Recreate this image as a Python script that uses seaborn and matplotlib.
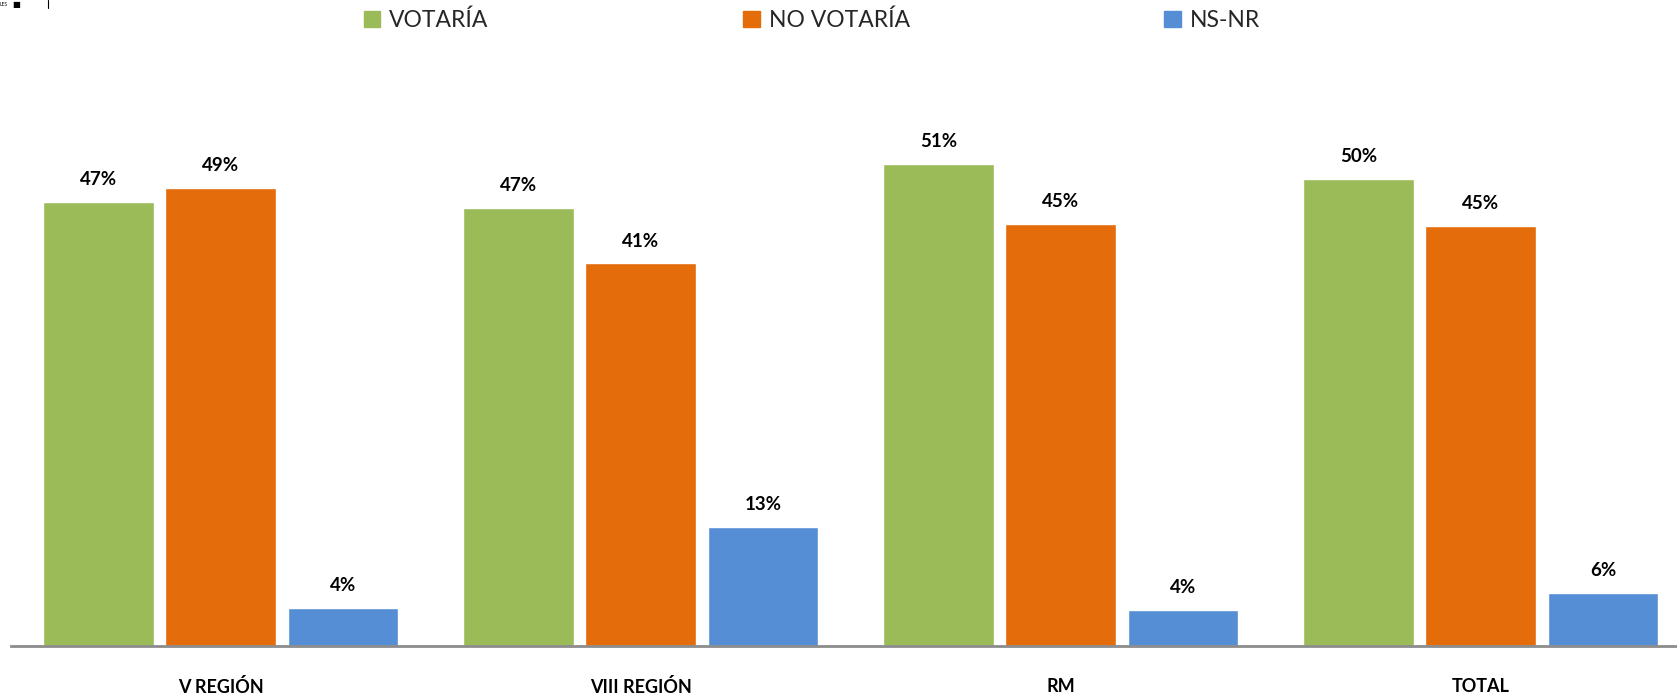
import matplotlib
matplotlib.use("Agg")
import matplotlib.pyplot as plt
import seaborn as sns
import pandas as pd
from matplotlib.lines import Line2D

categories = ["V REGIÓN", "VIII REGIÓN", "RM", "TOTAL"]
series_names = ["VOTARÍA", "NO VOTARÍA", "NS-NR"]
votaria = [47.4, 46.7, 51.4, 49.8]
no_votaria = [48.9, 40.8, 45.0, 44.8]
ns_nr = [4.0, 12.7, 3.8, 5.6]
colors = ["#9BBB59", "#E46C0A", "#558ED5"]

rows = []
for name, vals in zip(series_names, [votaria, no_votaria, ns_nr]):
    for c, v in zip(categories, vals):
        rows.append({"region": c, "serie": name, "valor": v})
df = pd.DataFrame(rows)

sns.set_style("white")
plt.rcParams["font.family"] = ["Lato", "DejaVu Sans"]

W, H = 1677, 693
fig = plt.figure(figsize=(W / 100, H / 100), dpi=100)
left = 10.7 / W
width = 1680 / W
bottom = (H - 645.7) / H
height = 545.7 / H
ax = fig.add_axes([left, bottom, width, height])

sns.barplot(data=df, x="region", y="valor", hue="serie", order=categories,
            hue_order=series_names, palette=colors, width=0.873, gap=0.096,
            saturation=1, ax=ax, legend=False)

ax.set_xlim(-0.5, 3.5)
ax.set_ylim(0, 545.7 / 9.37)
ax.set_xlabel("")
ax.set_ylabel("")
ax.set_yticks([])
for s in ["top", "right", "left"]:
    ax.spines[s].set_visible(False)
ax.spines["bottom"].set_color("#8C8C8C")
ax.spines["bottom"].set_linewidth(2)
ax.tick_params(axis="x", length=0, pad=23)
for t in ax.get_xticklabels():
    t.set_fontweight("bold")
    t.set_fontsize(13)
    t.set_color("#000000")

for cont in ax.containers:
    ax.bar_label(cont, fmt="%.0f%%", padding=10, fontsize=13.5,
                 fontweight="bold", color="#000000")

handles = [plt.Rectangle((0, 0), 1, 1, color=c) for c in colors]
fig.legend(handles, series_names, loc="center",
           bbox_to_anchor=(812 / W, 1 - 20 / H), ncol=3, frameon=False,
           fontsize=16.5, handlelength=0.72, handleheight=0.72,
           handletextpad=0.4, columnspacing=11.1, borderpad=0)

# small artifacts in the top-left corner of the original slide
fig.text(0 / W, 1 - 5 / H, "LES", fontsize=3.5, va="center", ha="left",
         color="#000000")
fig.text(12 / W, 1 - 4 / H, "■", fontsize=6, va="center", ha="left",
         color="#000000", family="DejaVu Sans")
fig.add_artist(Line2D([48 / W, 48 / W], [1 - 8 / H, 1.0], color="#000000",
                      linewidth=0.8, transform=fig.transFigure))

fig.savefig("out.png", dpi=100)
